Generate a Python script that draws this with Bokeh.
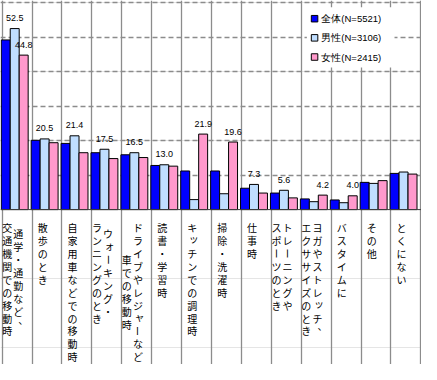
import math
import unicodedata
import numpy as np
from bokeh.plotting import figure
from bokeh.models import Range1d, Grid, FixedTicker, ColumnDataSource, Span
from bokeh.core.properties import value
from bokeh.embed import file_html
from bokeh.resources import INLINE

# ---------------- data ----------------
categories = [
    "通学・通勤など、\n交通機関での移動時",
    "散歩のとき",
    "自家用車などでの移動時",
    "ウォーキング・\nランニングのとき",
    "ドライブやレジャーなど\n車での移動時",
    "読書・学習時",
    "キッチンでの調理時",
    "掃除・洗濯時",
    "仕事時",
    "トレーニングや\nスポーツのとき",
    "ヨガやストレッチ、\nエクササイズのとき",
    "バスタイムに",
    "その他",
    "とくにない",
]
series_names = ["全体(N=5521)", "男性(N=3106)", "女性(N=2415)"]
total = [49.2, 20.1, 19.2, 16.5, 15.9, 12.8, 11.2, 11.2, 6.2, 4.8, 3.1, 2.8, 7.9, 10.5]
male = [52.5, 20.5, 21.4, 17.5, 16.5, 13.0, 2.9, 4.6, 7.3, 5.6, 2.3, 2.0, 7.6, 10.9]
female = [44.8, 19.4, 16.5, 14.8, 15.1, 12.6, 21.9, 19.6, 4.8, 3.4, 4.2, 4.0, 8.4, 10.3]
colors = ["#0000FF", "#C0DEFF", "#FF99CC"]
# which bars carry a value label (category index, series index)
label_cat = [0, 0, 1, 2, 3, 4, 5, 6, 7, 8, 9, 10, 11]
label_series = [1, 2, 1, 1, 1, 1, 1, 2, 2, 1, 1, 2, 2]
y_ticks = [10, 20, 30, 40, 50, 60]

# half-width ASCII for "(N=....)" as in the original legend
legend_names = [unicodedata.normalize("NFKC", s) for s in series_names]

# ---------------- layout ----------------
W, H = 421, 364
SX, SY = W / 437.0, H / 380.0
ncat = len(categories)
X0, X1 = -0.055, ncat + 0.02
Y0, Y1 = -44.92, 60.64


def px2x(px):
    return X0 + px / W * (X1 - X0)


def px2y(py):
    return Y1 - py / H * (Y1 - Y0)


p = figure(width=W, height=H, output_backend="svg", toolbar_location=None,
           x_range=Range1d(X0, X1), y_range=Range1d(Y0, Y1),
           x_axis_location=None, y_axis_location=None, min_border=0)
p.outline_line_color = None
p.background_fill_color = "white"
p.border_fill_color = "white"

grid_col = "#8c8c8c"
xg = Grid(dimension=0, ticker=FixedTicker(ticks=list(range(ncat + 1))),
          grid_line_color=grid_col, grid_line_width=1.3)
yg = Grid(dimension=1, ticker=FixedTicker(ticks=y_ticks),
          grid_line_color=grid_col, grid_line_width=1.3, grid_line_dash="5 3")
p.add_layout(xg)
p.add_layout(yg)

series = [total, male, female]
offsets = [0.12, 0.42, 0.72]
bar_w = 0.3
idx = np.arange(ncat)
bars = []
for s, vals in enumerate(series):
    r = p.vbar(x=idx + offsets[s], top=vals, bottom=0, width=bar_w,
               fill_color=colors[s], line_color="black", line_width=1)
    bars.append(r)

p.add_layout(Span(location=0, dimension="width", line_color="#404040", line_width=1))

# value labels
lx = [label_cat[k] + offsets[label_series[k]] for k in range(len(label_cat))]
ly = [series[label_series[k]][label_cat[k]] for k in range(len(label_cat))]
lt = ["%.1f" % v for v in ly]
p.text(x=lx, y=ly, text=lt, text_font=value("Liberation Sans"), text_font_size="9px",
       text_align="center", text_baseline="middle", y_offset=-10.5, text_color="black")

# vertical (tategaki) category labels
small = set("ッォャュョェィァゥっゃゅょぁぃぅぇぉ")
pitch = 13.5 * SY
col_gap = 11.5 * SX
first = 18.7 * SY
shift = -4.5 * SX
cx, cy, ct, cxo, cyo, ca = [], [], [], [], [], []
for i, cat in enumerate(categories):
    cols = cat.split("\n")
    n = len(cols)
    nmax = max(len(c) for c in cols)
    for j, col in enumerate(cols):
        xo = shift + ((n - 1) / 2.0 - j) * col_gap
        start = first + (nmax - len(col)) / 2.0 * pitch
        for k, ch in enumerate(col):
            dx, dy, ang = 0.0, 0.0, 0.0
            if ch == "ー":
                ang = -math.pi / 2
            elif ch == "、":
                dx, dy = 5.0, -5.0
            elif ch in small:
                dx, dy = 1.5, -1.5
            cx.append(i + 0.5)
            cy.append(0)
            ct.append(ch)
            cxo.append(xo + dx)
            cyo.append(start + k * pitch + dy)
            ca.append(ang)
src = ColumnDataSource(dict(x=cx, y=cy, t=ct, xo=cxo, yo=cyo, a=ca))
p.text(x="x", y="y", text="t", x_offset="xo", y_offset="yo", angle="a", source=src,
       text_font=value("Noto Sans CJK JP"), text_font_size="10px",
       text_align="center", text_baseline="middle", text_color="black")

# legend (drawn by hand so that its box and rows sit where the original has them)
box_l, box_r, box_t, box_b = 318 * SX, 409 * SX, 7 * SY, 70 * SY
p.quad(left=[px2x(box_l)], right=[px2x(box_r)], top=[px2y(box_t)], bottom=[px2y(box_b)],
       fill_color="white", line_color=None)
row_y = [px2y(r * SY) for r in (19, 39, 59)]
p.scatter(x=[px2x(326 * SX)] * 3, y=row_y, marker="square", size=6.5,
          fill_color=colors, line_color="black", line_width=1)
p.text(x=[px2x(333 * SX)] * 3, y=row_y, text=legend_names,
       text_font=value("Liberation Sans"), text_font_size="9.5px",
       text_align="left", text_baseline="middle", text_color="black")

open("out.html", "w").write(file_html(p, INLINE))
